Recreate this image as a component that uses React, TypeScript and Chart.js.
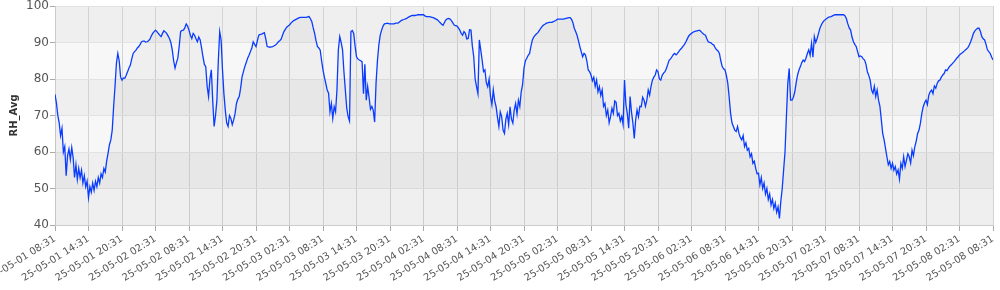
import React, { useEffect, useRef } from "react";
import { Chart, registerables } from "chart.js";

Chart.register(...registerables);

const xTickLabels = [
  "25-05-01 08:31", "25-05-01 14:31", "25-05-01 20:31",
  "25-05-02 02:31", "25-05-02 08:31", "25-05-02 14:31", "25-05-02 20:31",
  "25-05-03 02:31", "25-05-03 08:31", "25-05-03 14:31", "25-05-03 20:31",
  "25-05-04 02:31", "25-05-04 08:31", "25-05-04 14:31", "25-05-04 20:31",
  "25-05-05 02:31", "25-05-05 08:31", "25-05-05 14:31", "25-05-05 20:31",
  "25-05-06 02:31", "25-05-06 08:31", "25-05-06 14:31", "25-05-06 20:31",
  "25-05-07 02:31", "25-05-07 08:31", "25-05-07 14:31", "25-05-07 20:31",
  "25-05-08 02:31", "25-05-08 08:31",
];

// hours after 25-05-01 08:31, one reading every quarter hour (one row = 6 h)
const hourStep = 0.25;

const rhValues = [
  75.8, 73.5, 70.1, 68.0, 64.5, 66.5, 60.0, 61.5, 53.5, 59.0, 60.8, 58.0, 61.2, 58.5, 53.0, 56.5, 52.5, 55.5, 53.0, 55.0, 51.5, 53.5, 50.5, 52.0,
  47.5, 50.5, 49.0, 51.5, 49.5, 52.0, 50.5, 53.0, 51.5, 54.0, 53.0, 55.5, 54.5, 57.5, 59.6, 62.0, 63.3, 66.0, 72.4, 78.0, 84.3, 87.0, 85.0, 80.5,
  79.7, 80.3, 80.2, 81.0, 82.0, 83.0, 83.8, 85.5, 87.0, 87.5, 87.9, 88.5, 88.9, 89.5, 90.2, 90.4, 90.4, 90.1, 90.2, 90.5, 90.9, 91.8, 92.5, 93.0,
  93.4, 93.0, 92.5, 92.0, 91.6, 92.5, 93.2, 92.9, 92.5, 91.8, 91.1, 90.0, 88.0, 85.0, 83.0, 84.5, 85.7, 89.0, 93.0, 93.3, 93.4, 94.0, 95.1, 94.5,
  93.4, 92.0, 91.1, 92.5, 92.0, 91.0, 90.2, 91.5, 90.7, 88.5, 86.1, 84.0, 83.4, 78.0, 75.2, 80.0, 82.5, 74.0, 67.0, 70.0, 74.2, 85.0, 93.0, 90.7,
  82.5, 76.0, 71.5, 68.0, 67.0, 70.0, 69.2, 67.5, 68.8, 70.5, 73.3, 74.5, 75.2, 77.5, 80.6, 82.0, 83.4, 84.5, 85.7, 86.5, 87.5, 88.5, 90.2, 89.5,
  88.9, 90.5, 92.0, 92.2, 92.3, 92.5, 92.7, 91.0, 88.9, 88.8, 88.7, 88.8, 88.9, 89.1, 89.3, 89.7, 90.2, 90.5, 90.9, 92.0, 93.0, 93.6, 94.2, 94.5,
  94.8, 95.3, 95.7, 96.0, 96.2, 96.4, 96.6, 96.8, 96.9, 96.9, 96.9, 96.9, 96.9, 97.0, 97.1, 96.5, 95.7, 94.0, 92.5, 90.5, 88.9, 88.5, 87.9, 85.0,
  82.5, 80.5, 78.8, 77.0, 76.1, 71.0, 73.3, 69.2, 72.4, 71.0, 77.0, 88.0, 91.6, 90.0, 88.0, 82.0, 77.0, 72.0, 69.7, 68.5, 93.0, 93.3, 92.5, 89.0,
  86.1, 85.5, 85.2, 85.0, 84.7, 76.0, 84.0, 74.2, 77.9, 75.0, 71.7, 72.5, 71.4, 68.2, 78.8, 85.0, 89.3, 92.0, 93.4, 94.5, 95.1, 95.2, 95.3, 95.2,
  95.1, 95.1, 95.1, 95.1, 95.3, 95.3, 95.4, 95.7, 96.0, 96.2, 96.3, 96.5, 96.6, 96.9, 97.1, 97.3, 97.4, 97.4, 97.4, 97.5, 97.6, 97.6, 97.6, 97.6,
  97.6, 97.3, 97.1, 97.1, 97.1, 97.0, 96.9, 96.8, 96.6, 96.4, 96.2, 95.8, 95.4, 95.0, 94.7, 95.5, 96.2, 96.5, 96.6, 96.4, 96.0, 95.4, 94.8, 94.6,
  94.5, 94.0, 93.4, 92.5, 92.0, 93.0, 92.5, 91.0, 91.1, 93.5, 93.4, 89.0, 86.1, 80.0, 77.9, 76.0, 90.7, 88.0, 85.2, 82.0, 82.5, 79.0, 77.9, 80.0,
  75.2, 73.0, 77.0, 74.0, 72.4, 69.5, 67.0, 71.0, 69.7, 66.0, 65.1, 69.0, 70.6, 67.5, 72.4, 69.0, 67.9, 71.5, 73.3, 70.5, 74.2, 72.5, 76.5, 78.5,
  83.0, 85.0, 85.7, 86.5, 87.0, 89.0, 90.7, 91.5, 92.0, 92.4, 92.7, 93.3, 93.9, 94.4, 94.8, 95.0, 95.3, 95.4, 95.5, 95.5, 95.5, 95.7, 95.9, 96.1,
  96.4, 96.4, 96.4, 96.4, 96.4, 96.5, 96.6, 96.7, 96.8, 96.8, 96.4, 95.5, 93.9, 93.0, 92.0, 90.5, 88.9, 87.5, 86.1, 87.0, 86.6, 85.0, 82.5, 82.0,
  81.1, 79.5, 80.5, 78.0, 79.7, 76.5, 77.9, 75.5, 77.0, 72.5, 73.3, 70.0, 71.5, 68.0, 69.7, 72.0, 70.6, 74.0, 73.6, 70.0, 70.6, 68.5, 69.7, 67.5,
  79.7, 73.0, 70.6, 66.5, 75.2, 71.0, 68.0, 63.7, 68.8, 71.5, 69.7, 72.5, 72.4, 75.0, 74.2, 72.5, 74.2, 77.0, 75.6, 78.0, 79.7, 80.5, 81.1, 82.5,
  82.0, 80.0, 79.7, 81.0, 81.6, 82.0, 82.9, 84.0, 85.2, 85.5, 86.1, 86.7, 87.0, 86.6, 87.0, 87.6, 88.1, 88.5, 89.0, 89.5, 90.2, 91.0, 91.8, 92.2,
  92.5, 92.8, 93.0, 93.1, 93.2, 93.3, 93.3, 92.9, 92.5, 92.2, 92.0, 91.0, 90.2, 90.0, 89.9, 89.5, 89.3, 88.5, 88.0, 87.7, 87.0, 85.0, 83.4, 82.8,
  82.5, 81.0, 78.8, 75.0, 70.6, 68.0, 67.0, 66.0, 65.6, 67.0, 65.1, 64.0, 63.3, 64.5, 61.5, 62.5, 60.5, 61.0, 58.7, 59.5, 56.9, 57.5, 55.5, 54.0,
  54.2, 51.0, 53.0, 50.0, 51.5, 48.5, 50.0, 47.0, 48.5, 45.5, 47.0, 44.5, 46.0, 43.5, 45.0, 41.8, 46.5, 50.0, 55.1, 60.0, 69.7, 78.8, 82.9, 74.2,
  74.2, 75.0, 76.5, 79.0, 81.1, 82.5, 83.4, 84.5, 85.2, 84.8, 85.7, 87.0, 88.0, 86.5, 89.8, 86.0, 91.6, 90.0, 91.1, 92.5, 93.9, 94.8, 95.5, 96.0,
  96.3, 96.6, 96.9, 97.0, 97.1, 97.3, 97.5, 97.6, 97.6, 97.6, 97.6, 97.6, 97.6, 97.6, 97.3, 96.5, 95.1, 94.0, 93.4, 91.5, 90.2, 89.5, 88.9, 87.5,
  86.1, 86.3, 86.1, 85.5, 85.2, 84.0, 82.0, 81.0, 79.7, 77.0, 76.1, 78.0, 75.2, 77.0, 74.2, 72.5, 68.8, 65.0, 63.3, 61.0, 58.7, 56.5, 57.4, 55.5,
  56.9, 55.0, 56.0, 54.0, 55.1, 52.6, 56.9, 55.5, 58.7, 56.0, 57.8, 59.5, 58.7, 57.0, 60.5, 59.0, 61.5, 63.0, 65.1, 66.0, 67.9, 70.5, 72.4, 73.5,
  74.2, 73.0, 75.6, 76.5, 77.0, 76.0, 78.1, 77.5, 78.8, 79.5, 79.7, 80.5, 81.1, 81.5, 82.5, 82.3, 82.9, 83.5, 83.8, 84.3, 84.7, 85.2, 85.7, 86.1,
  86.6, 86.9, 87.2, 87.5, 87.9, 88.2, 88.6, 89.3, 90.2, 91.3, 92.5, 93.2, 93.6, 93.9, 93.9, 93.0, 91.6, 91.0, 90.7, 89.5, 88.0, 87.5, 87.0, 86.0,
  85.2,
];

const yTicks = [40, 50, 60, 70, 80, 90, 100];
const bandEdges = [40, 50, 60, 70, 80, 90, 100];
const bandColors = ["#f7f7f7", "#efefef", "#f7f7f7", "#efefef", "#f7f7f7", "#efefef"];

const bandPlugin = {
  id: "bands",
  beforeDraw(chart: any) {
    const { ctx, chartArea, scales } = chart;
    const y = scales.y;
    ctx.save();
    for (let i = 0; i < bandEdges.length - 1; i++) {
      const top = y.getPixelForValue(bandEdges[i + 1]);
      const bot = y.getPixelForValue(bandEdges[i]);
      ctx.fillStyle = bandColors[i];
      ctx.fillRect(chartArea.left, top, chartArea.right - chartArea.left, bot - top);
    }
    ctx.restore();
  },
};

export default function App() {
  const ref = useRef<HTMLCanvasElement>(null);
  useEffect(() => {
    document.body.style.margin = "0";
    const points = rhValues.map((v, i) => ({ x: i * hourStep, y: v }));
    const chart = new Chart(ref.current as HTMLCanvasElement, {
      type: "line",
      data: {
        datasets: [
          {
            label: "RH_Avg",
            data: points,
            borderColor: "#0a3cff",
            borderWidth: 1.3,
            pointRadius: 0,
            tension: 0,
            fill: "start",
            backgroundColor: "rgba(0,0,0,0.03)",
          },
        ],
      },
      options: {
        responsive: false,
        animation: false,
        layout: { padding: { top: 6, right: 7, left: 0, bottom: 0 } },
        plugins: { legend: { display: false }, tooltip: { enabled: false } },
        scales: {
          x: {
            type: "linear",
            min: 0,
            max: (xTickLabels.length - 1) * 6,
            afterFit: (s: any) => {
              s.height = 65;
              s.paddingLeft = 0;
              s.paddingRight = 0;
            },
            afterBuildTicks: (s: any) => {
              s.ticks = xTickLabels.map((_, i) => ({ value: i * 6 }));
            },
            grid: { color: "#d3d3d3", tickColor: "#aaaaaa", tickLength: 6, lineWidth: 1 },
            border: { color: "#cccccc" },
            ticks: {
              autoSkip: false,
              maxRotation: 32,
              minRotation: 32,
              padding: 2,
              color: "#555555",
              font: { family: "DejaVu Sans", size: 10 },
              callback: (v: any) => xTickLabels[Math.round(Number(v) / 6)] ?? "",
            },
          },
          y: {
            min: 40,
            max: 100,
            afterFit: (s: any) => {
              s.width = 55;
              s.paddingTop = 0;
              s.paddingBottom = 0;
            },
            afterBuildTicks: (s: any) => {
              s.ticks = yTicks.map((v) => ({ value: v }));
            },
            grid: { color: "#e2e2e2", tickColor: "#aaaaaa", tickLength: 5 },
            border: { color: "#cccccc" },
            ticks: {
              padding: 1,
              color: "#555555",
              font: { family: "DejaVu Sans", size: 12 },
            },
            title: {
              display: true,
              text: "RH_Avg",
              color: "#333333",
              font: { family: "DejaVu Sans", size: 10, weight: "bold" },
              padding: { top: 8, bottom: 0 },
            },
          },
        },
      },
      plugins: [bandPlugin],
    });
    return () => chart.destroy();
  }, []);
  return (
    <div style={{ width: 1000, height: 290 }}>
      <canvas ref={ref} width={1000} height={290} style={{ display: "block" }} />
    </div>
  );
}
